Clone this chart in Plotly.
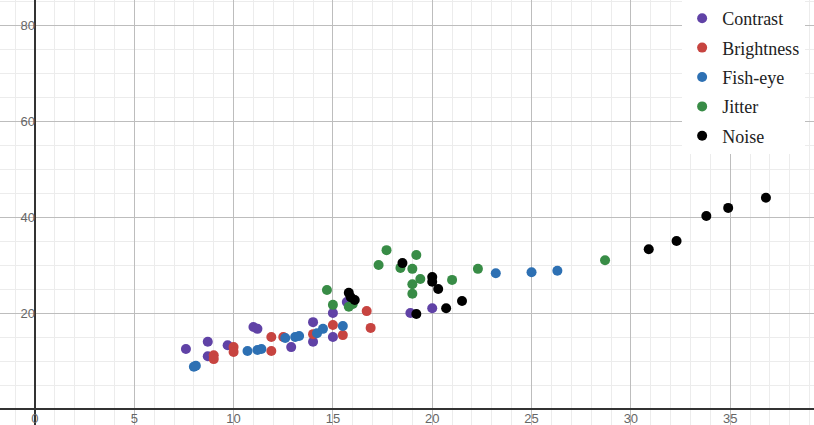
import plotly.graph_objects as go

# ---- data ----
contrast_x = [7.6, 8.7, 8.7, 9.7, 11.0, 11.2, 12.9, 14.0, 14.0, 15.0, 15.0, 15.7, 18.9, 20.0]
contrast_y = [12.5, 14.0, 11.0, 13.3, 17.1, 16.7, 12.9, 18.1, 14.0, 20.0, 15.0, 22.3, 20.0, 21.0]

brightness_x = [9.0, 9.0, 10.0, 10.0, 11.9, 12.5, 11.9, 14.0, 15.0, 15.5, 16.7, 16.9]
brightness_y = [11.2, 10.4, 12.9, 11.9, 15.0, 15.0, 12.1, 15.6, 17.5, 15.4, 20.4, 16.9]

fisheye_x = [8.0, 8.1, 10.7, 11.2, 11.4, 12.6, 13.1, 13.3, 14.2, 14.5, 15.5, 23.2, 25.0, 26.3]
fisheye_y = [8.8, 9.0, 12.1, 12.3, 12.5, 14.8, 15.0, 15.2, 15.8, 16.7, 17.3, 28.3, 28.5, 28.8]

jitter_x = [14.7, 15.0, 15.8, 16.0, 17.3, 17.7, 18.4, 19.0, 19.2, 19.4, 19.0, 19.0, 21.0, 22.3, 28.7]
jitter_y = [24.8, 21.7, 21.3, 21.9, 30.0, 33.1, 29.4, 29.2, 32.1, 27.1, 26.0, 24.0, 26.9, 29.2, 31.0]

noise_x = [15.8, 15.9, 16.1, 18.5, 19.2, 20.0, 20.0, 20.3, 20.7, 21.5, 30.9, 32.3, 33.8, 34.9, 36.8]
noise_y = [24.2, 23.3, 22.7, 30.4, 19.8, 27.5, 26.5, 25.0, 21.0, 22.5, 33.3, 35.0, 40.2, 41.9, 44.0]

series_names = ["Contrast", "Brightness", "Fish-eye", "Jitter", "Noise"]
series_x = [contrast_x, brightness_x, fisheye_x, jitter_x, noise_x]
series_y = [contrast_y, brightness_y, fisheye_y, jitter_y, noise_y]
series_colors = ["#6042a6", "#c74440", "#2d70b3", "#388c46", "#000000"]

x_tickvals = [0, 5, 10, 15, 20, 25, 30, 35]
y_tickvals = [20, 40, 60, 80]

x_range = [-1.76, 39.22]
y_range = [-3.33, 85.21]

fig = go.Figure()
for i, (name, xs, ys, col) in enumerate(zip(series_names, series_x, series_y, series_colors)):
    fig.add_trace(go.Scatter(
        x=xs, y=ys, mode="markers", name=name, legendgroup=f"g{i}",
        marker=dict(color=col, size=10, line=dict(width=0)),
    ))

xpos = (0 - y_range[0]) / (y_range[1] - y_range[0])
ypos = (0 - x_range[0]) / (x_range[1] - x_range[0])

fig.update_layout(
    width=814, height=425,
    margin=dict(l=0, r=0, t=0, b=0, pad=0, autoexpand=False),
    paper_bgcolor="white", plot_bgcolor="white",
    showlegend=True,
    legend=dict(
        x=0.838, y=1.0, xanchor="left", yanchor="top",
        bgcolor="white", borderwidth=0,
        font=dict(family="Liberation Serif", size=18, color="#222"),
        tracegroupgap=3, itemwidth=30,
    ),
    xaxis=dict(
        range=x_range, anchor="free", position=xpos, automargin=False,
        tickvals=x_tickvals, ticks="", showline=False,
        showgrid=True, gridcolor="#bdbdbd", gridwidth=1,
        minor=dict(dtick=1, showgrid=True, gridcolor="#ececec", gridwidth=1),
        zeroline=True, zerolinecolor="#333", zerolinewidth=2,
        tickfont=dict(family="Liberation Sans", size=13, color="#666"),
        fixedrange=True,
    ),
    yaxis=dict(
        range=y_range, anchor="free", position=ypos, automargin=False,
        tickvals=y_tickvals, ticks="", showline=False,
        showgrid=True, gridcolor="#bdbdbd", gridwidth=1,
        minor=dict(dtick=5, showgrid=True, gridcolor="#ececec", gridwidth=1),
        zeroline=True, zerolinecolor="#333", zerolinewidth=2,
        tickfont=dict(family="Liberation Sans", size=13, color="#666"),
        fixedrange=True,
    ),
)

fig.write_html(
    "out.html",
    config={"displayModeBar": False},
    post_script="document.body.style.margin='0';document.body.style.overflow='hidden';",
)
